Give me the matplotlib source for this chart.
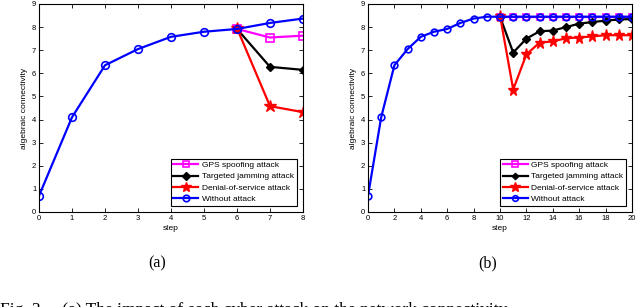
import matplotlib
matplotlib.use("Agg")
import matplotlib.pyplot as plt
import numpy as np

# (a) data
steps_a = [0, 1, 2, 3, 4, 5, 6, 7, 8]
without_a = [0.7, 4.1, 6.35, 7.05, 7.58, 7.8, 7.92, 8.18, 8.37]
attack_steps_a = [6, 7, 8]
gps_a = [7.92, 7.55, 7.63]
jam_a = [7.92, 6.28, 6.15]
dos_a = [7.95, 4.58, 4.32]

# (b) data
steps_b = list(range(0, 21))
without_b = [0.7, 4.1, 6.35, 7.05, 7.58, 7.8, 7.92, 8.18, 8.37, 8.45,
             8.45, 8.45, 8.45, 8.45, 8.45, 8.45, 8.45, 8.45, 8.45, 8.45, 8.45]
attack_steps_b = list(range(10, 21))
gps_b = [8.45] * 11
jam_b = [8.45, 6.9, 7.5, 7.82, 7.85, 8.0, 8.15, 8.22, 8.28, 8.33, 8.35]
dos_b = [8.5, 5.3, 6.82, 7.33, 7.38, 7.52, 7.55, 7.6, 7.65, 7.65, 7.65]

labels = ["GPS spoofing attack", "Targeted jamming attack",
          "Denial-of-service attack", "Without attack"]

plt.rcParams['font.family'] = ['Liberation Sans', 'DejaVu Sans']
fig = plt.figure(figsize=(6.4, 3.07), dpi=100)

ax_a = fig.add_axes([39/640, 1-212/307, 264/640, 208/307])
ax_b = fig.add_axes([368/640, 1-212/307, 264/640, 208/307])

def draw(ax, steps, without, asteps, gps, jam, dos, xticks, xmax, ms):
    ax.plot(asteps, gps, color='magenta', marker='s', mfc='none', mew=1.2,
            ms=ms, lw=1.6, label=labels[0])
    ax.plot(asteps, jam, color='black', marker='D', mfc='black', ms=ms-1,
            lw=1.6, label=labels[1])
    ax.plot(asteps, dos, color='red', marker='*', ms=ms+3.5, lw=1.6,
            label=labels[2])
    ax.plot(steps, without, color='blue', marker='o', mfc='none', mew=1.2,
            ms=ms, lw=1.6, label=labels[3])
    ax.set_xlim(0, xmax)
    ax.set_ylim(0, 9)
    ax.set_xticks(xticks)
    ax.set_yticks(range(0, 10))
    ax.tick_params(direction='in', top=True, right=True, labelsize=5.5,
                   length=3, width=0.6, pad=2)
    for s in ax.spines.values():
        s.set_linewidth(0.8)
    ax.set_xlabel('step', fontsize=6, labelpad=2)
    ax.set_ylabel('algebraic connectivity', fontsize=6, labelpad=3)
    leg = ax.legend(loc='lower right', fontsize=6.0, fancybox=False,
                    edgecolor='black', framealpha=1, borderpad=0.35,
                    labelspacing=0.4, handlelength=3.0, handletextpad=0.4,
                    borderaxespad=0.75, markerscale=0.85)
    leg.get_frame().set_linewidth(0.8)

draw(ax_a, steps_a, without_a, attack_steps_a, gps_a, jam_a, dos_a,
     range(0, 9), 8, 5.5)
draw(ax_b, steps_b, without_b, attack_steps_b, gps_b, jam_b, dos_b,
     range(0, 21, 2), 20, 4.8)

fig.text(157/640, 1-263/307, '(a)', fontsize=11.5, family='Liberation Serif',
         ha='center', va='center')
fig.text(488/640, 1-263/307, '(b)', fontsize=11.5, family='Liberation Serif',
         ha='center', va='center')
fig.text(0.0, 1-314/307, 'Fig. 3.    (a) The impact of each cyber attack on the network connectivity',
         fontsize=12.5, family='Liberation Serif', ha='left', va='baseline')

fig.savefig('out.png', dpi=100)
